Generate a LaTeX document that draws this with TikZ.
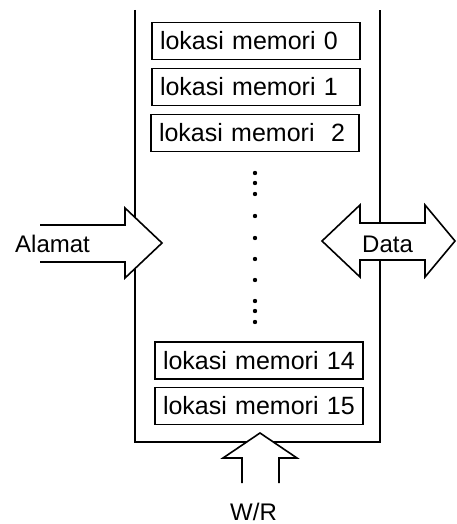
\documentclass[tikz,border=0pt]{standalone}
\usepackage{fontspec}
\setmainfont{Liberation Sans}
\begin{document}
\begin{tikzpicture}[x=1pt,y=-1pt,
  lbl/.style={font=\fontsize{24}{28}\selectfont, inner sep=0pt},
  membox/.style={draw, line width=1.6pt, minimum width=208pt, minimum height=37pt,
    text width=192pt, inner xsep=8pt, inner ysep=0pt, align=left,
    font=\fontsize{25}{29}\selectfont},
  wall/.style={line width=2.8pt},
  bigarrow/.style={line width=1.6pt, line join=miter},
  memdot/.style={circle, fill=black, inner sep=0pt, minimum size=4.4pt}]
\useasboundingbox (0,0) rectangle (457,524);

% memory block: open at the top
\draw[wall] (135,10) -- (135,442) -- (380,442) -- (380,10);

% memory locations
\node[membox] (m0)  at (256,41)    {lokasi memori 0};
\node[membox] (m1)  at (256,87)    {lokasi memori 1};
\node[membox] (m2)  at (255,133)   {lokasi memori\ \ 2};
\node[membox] (m14) at (259,360.5) {lokasi memori 14};
\node[membox] (m15) at (259,406)   {lokasi memori 15};

% ellipsis between the locations
\foreach \i/\y in {a/173,b/183,c/194,d/216,e/238,f/259,g/280,h/301,k/311,l/322}
  \node[memdot] (dot\i) at (255,\y) {};

% address input arrow (open tail)
\fill[white] (40,225) -- (125,225) -- (125,208) -- (162,243) -- (125,278) -- (125,262) -- (40,262) -- cycle;
\draw[bigarrow] (40,225) -- (125,225) -- (125,208) -- (162,243) -- (125,278) -- (125,262) -- (40,262);
\node[lbl, anchor=base west] (alamat) at (15,252) {Alamat};

% bidirectional data arrow
\filldraw[bigarrow, fill=white] (322,241) -- (360,205) -- (360,223) -- (425,223) -- (425,205)
  -- (455,241) -- (425,277) -- (425,260) -- (360,260) -- (360,277) -- cycle;
\node[lbl, anchor=base west] (data) at (362,252) {Data};

% write/read control arrow (open tail)
\fill[white] (242,483) -- (242,458) -- (223,458) -- (260,433) -- (297,458) -- (279,458) -- (279,483) -- cycle;
\draw[bigarrow] (242,483) -- (242,458) -- (223,458) -- (260,433) -- (297,458) -- (279,458) -- (279,483);
\node[lbl, anchor=base west] (wr) at (230,520) {W/R};
\end{tikzpicture}
\end{document}
